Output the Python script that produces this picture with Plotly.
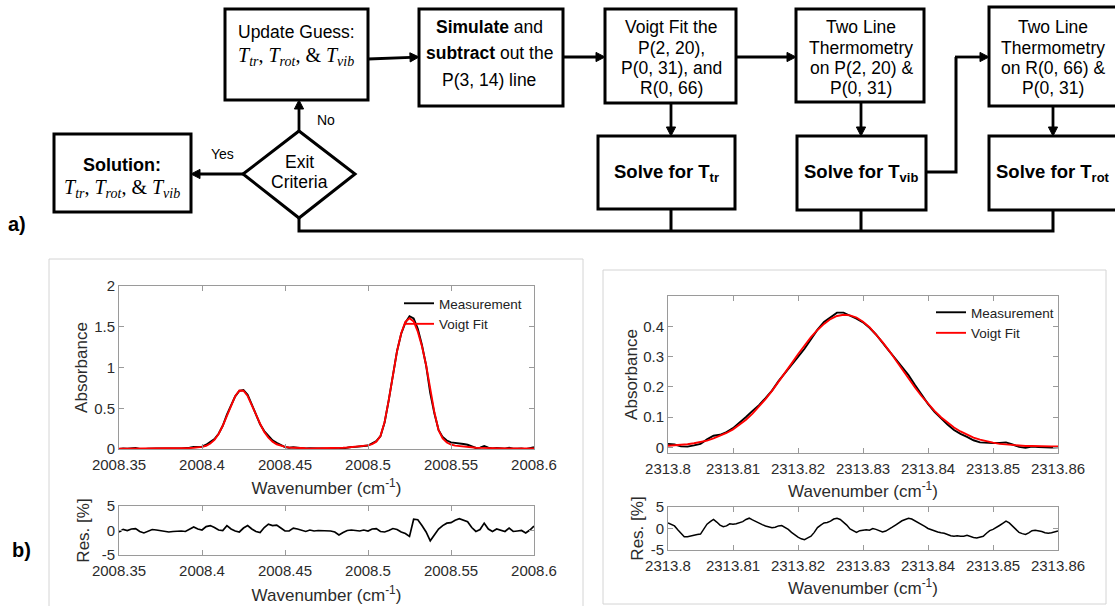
import math
import plotly.graph_objects as go

# ---------------- data (panel b) ----------------
# left: P(2,20) / P(0,31) region
wn_left = [
    2008.35, 2008.3525, 2008.355, 2008.3575, 2008.36, 2008.3625, 2008.365, 2008.3675, 2008.37, 2008.3725,
    2008.375, 2008.3775, 2008.38, 2008.3825, 2008.385, 2008.3875, 2008.39, 2008.3925, 2008.395, 2008.3975,
    2008.4, 2008.4025, 2008.405, 2008.4075, 2008.41, 2008.4125, 2008.415, 2008.4175, 2008.42, 2008.4225,
    2008.425, 2008.4275, 2008.43, 2008.4325, 2008.435, 2008.4375, 2008.44, 2008.4425, 2008.445, 2008.4475,
    2008.45, 2008.4525, 2008.455, 2008.4575, 2008.46, 2008.4625, 2008.465, 2008.4675, 2008.47, 2008.4725,
    2008.475, 2008.4775, 2008.48, 2008.4825, 2008.485, 2008.4875, 2008.49, 2008.4925, 2008.495, 2008.4975,
    2008.5, 2008.5025, 2008.505, 2008.5075, 2008.51, 2008.5125, 2008.515, 2008.5175, 2008.52, 2008.5225,
    2008.525, 2008.5275, 2008.53, 2008.5325, 2008.535, 2008.5375, 2008.54, 2008.5425, 2008.545, 2008.5475,
    2008.55, 2008.5525, 2008.555, 2008.5575, 2008.56, 2008.5625, 2008.565, 2008.5675, 2008.57, 2008.5725,
    2008.575, 2008.5775, 2008.58, 2008.5825, 2008.585, 2008.5875, 2008.59, 2008.5925, 2008.595, 2008.5975,
    2008.6,
]
abs_fit_left = [
    0.004, 0.004, 0.004, 0.005, 0.005, 0.005, 0.005, 0.005, 0.006, 0.006,
    0.006, 0.007, 0.007, 0.008, 0.009, 0.010, 0.011, 0.013, 0.015, 0.019,
    0.026, 0.040, 0.068, 0.112, 0.185, 0.285, 0.405, 0.535, 0.648, 0.718,
    0.715, 0.650, 0.545, 0.425, 0.310, 0.210, 0.140, 0.090, 0.058, 0.038,
    0.026, 0.018, 0.014, 0.011, 0.010, 0.009, 0.008, 0.008, 0.008, 0.008,
    0.009, 0.010, 0.011, 0.013, 0.015, 0.018, 0.022, 0.026, 0.030, 0.035,
    0.045, 0.060, 0.090, 0.160, 0.330, 0.600, 0.890, 1.200, 1.420, 1.560,
    1.604, 1.565, 1.440, 1.260, 1.030, 0.720, 0.450, 0.230, 0.130, 0.080,
    0.055, 0.042, 0.035, 0.028, 0.023, 0.019, 0.016, 0.014, 0.012, 0.011,
    0.010, 0.009, 0.009, 0.008, 0.008, 0.008, 0.007, 0.007, 0.007, 0.007,
    0.007,
]
abs_meas_left = [
    -0.001, 0.007, 0.004, 0.010, 0.012, 0.002, -0.003, 0.003, 0.009, 0.008,
    0.006, 0.004, 0.002, 0.005, 0.007, 0.008, 0.008, 0.016, 0.026, 0.024,
    0.028, 0.053, 0.084, 0.122, 0.187, 0.285, 0.421, 0.540, 0.646, 0.713,
    0.723, 0.666, 0.550, 0.422, 0.303, 0.220, 0.161, 0.106, 0.076, 0.046,
    0.024, 0.016, 0.022, 0.016, 0.010, 0.006, 0.010, 0.006, 0.008, 0.008,
    0.007, 0.008, 0.006, -0.002, 0.008, 0.018, 0.024, 0.026, 0.028, 0.037,
    0.043, 0.065, 0.097, 0.157, 0.325, 0.600, 0.897, 1.203, 1.415, 1.550,
    1.630, 1.602, 1.476, 1.276, 1.025, 0.686, 0.435, 0.235, 0.146, 0.104,
    0.081, 0.076, 0.074, 0.062, 0.052, 0.029, 0.013, 0.017, 0.036, 0.016,
    0.007, 0.014, 0.009, 0.005, 0.016, 0.005, 0.005, 0.007, -0.001, 0.009,
    0.022,
]
res_left = [
    -0.3, 0.2, 0.0, 0.3, 0.4, -0.2, -0.5, -0.1, 0.2, 0.1,
    0.0, -0.2, -0.3, -0.2, -0.1, -0.1, -0.2, 0.2, 0.7, 0.3,
    0.1, 0.8, 1.0, 0.6, 0.1, 0.0, 1.0, 0.3, -0.1, -0.3,
    0.5, 1.0, 0.3, -0.2, -0.4, 0.6, 1.3, 1.0, 1.1, 0.5,
    -0.1, -0.1, 0.5, 0.3, 0.0, -0.2, 0.1, -0.1, 0.0, 0.0,
    -0.1, -0.1, -0.3, -0.9, -0.4, 0.0, 0.1, 0.0, -0.1, 0.1,
    -0.1, 0.3, 0.4, -0.2, -0.3, 0.0, 0.4, 0.2, -0.3, -0.6,
    -1.2, 2.3, 2.2, 1.0, -0.3, -2.1, -0.9, 0.3, 1.0, 1.5,
    1.6, 2.1, 2.4, 2.1, 1.8, 0.6, -0.2, 0.2, 1.5, 0.3,
    -0.2, 0.3, 0.0, -0.2, 0.5, -0.2, -0.1, 0.0, -0.5, 0.1,
    0.9,
]

# right: R(0,66) region
wn_right = [
    2313.800, 2313.801, 2313.802, 2313.803, 2313.804, 2313.805, 2313.806, 2313.807, 2313.808, 2313.809,
    2313.810, 2313.811, 2313.812, 2313.813, 2313.814, 2313.815, 2313.816, 2313.817, 2313.818, 2313.819,
    2313.820, 2313.821, 2313.822, 2313.823, 2313.824, 2313.825, 2313.826, 2313.827, 2313.828, 2313.829,
    2313.830, 2313.831, 2313.832, 2313.833, 2313.834, 2313.835, 2313.836, 2313.837, 2313.838, 2313.839,
    2313.840, 2313.841, 2313.842, 2313.843, 2313.844, 2313.845, 2313.846, 2313.847, 2313.848, 2313.849,
    2313.850, 2313.851, 2313.852, 2313.853, 2313.854, 2313.855, 2313.856, 2313.857, 2313.858, 2313.859,
    2313.860,
]
abs_fit_right = [
    0.006, 0.007, 0.009, 0.011, 0.014, 0.018, 0.023, 0.030, 0.038, 0.048,
    0.060, 0.075, 0.092, 0.112, 0.135, 0.160, 0.187, 0.216, 0.246, 0.277,
    0.308, 0.337, 0.364, 0.388, 0.408, 0.424, 0.434, 0.438, 0.436, 0.429,
    0.415, 0.397, 0.374, 0.348, 0.320, 0.289, 0.258, 0.228, 0.198, 0.170,
    0.144, 0.121, 0.100, 0.082, 0.066, 0.053, 0.042, 0.033, 0.026, 0.020,
    0.016, 0.012, 0.010, 0.008, 0.006, 0.005, 0.005, 0.004, 0.004, 0.004,
    0.004,
]
abs_meas_right = [
    0.012, 0.010, 0.004, 0.003, 0.007, 0.012, 0.027, 0.039, 0.042, 0.051,
    0.064, 0.081, 0.101, 0.121, 0.140, 0.163, 0.188, 0.219, 0.247, 0.273,
    0.299, 0.326, 0.356, 0.389, 0.414, 0.431, 0.445, 0.445, 0.436, 0.425,
    0.413, 0.395, 0.373, 0.344, 0.319, 0.293, 0.266, 0.239, 0.206, 0.174,
    0.144, 0.118, 0.096, 0.076, 0.058, 0.045, 0.035, 0.024, 0.017, 0.015,
    0.015, 0.015, 0.017, 0.010, 0.002, -0.001, 0.003, 0.002, 0.000, 0.000,
    0.001,
]
wn_right_res = [
    2313.8000, 2313.8005, 2313.8010, 2313.8015, 2313.8020, 2313.8025, 2313.8030, 2313.8035, 2313.8040, 2313.8045,
    2313.8050, 2313.8055, 2313.8060, 2313.8065, 2313.8070, 2313.8075, 2313.8080, 2313.8085, 2313.8090, 2313.8095,
    2313.8100, 2313.8105, 2313.8110, 2313.8115, 2313.8120, 2313.8125, 2313.8130, 2313.8135, 2313.8140, 2313.8145,
    2313.8150, 2313.8155, 2313.8160, 2313.8165, 2313.8170, 2313.8175, 2313.8180, 2313.8185, 2313.8190, 2313.8195,
    2313.8200, 2313.8205, 2313.8210, 2313.8215, 2313.8220, 2313.8225, 2313.8230, 2313.8235, 2313.8240, 2313.8245,
    2313.8250, 2313.8255, 2313.8260, 2313.8265, 2313.8270, 2313.8275, 2313.8280, 2313.8285, 2313.8290, 2313.8295,
    2313.8300, 2313.8305, 2313.8310, 2313.8315, 2313.8320, 2313.8325, 2313.8330, 2313.8335, 2313.8340, 2313.8345,
    2313.8350, 2313.8355, 2313.8360, 2313.8365, 2313.8370, 2313.8375, 2313.8380, 2313.8385, 2313.8390, 2313.8395,
    2313.8400, 2313.8405, 2313.8410, 2313.8415, 2313.8420, 2313.8425, 2313.8430, 2313.8435, 2313.8440, 2313.8445,
    2313.8450, 2313.8455, 2313.8460, 2313.8465, 2313.8470, 2313.8475, 2313.8480, 2313.8485, 2313.8490, 2313.8495,
    2313.8500, 2313.8505, 2313.8510, 2313.8515, 2313.8520, 2313.8525, 2313.8530, 2313.8535, 2313.8540, 2313.8545,
    2313.8550, 2313.8555, 2313.8560, 2313.8565, 2313.8570, 2313.8575, 2313.8580, 2313.8585, 2313.8590, 2313.8595,
    2313.8600,
]
res_right = [
    1.3, 1.0, 0.6, -0.3, -1.2, -1.9, -1.9, -1.7, -1.6, -1.4,
    -1.3, -0.2, 1.0, 1.6, 2.1, 1.5, 0.8, 0.4, 0.6, 1.1,
    1.0, 1.1, 1.3, 1.6, 2.1, 2.4, 2.0, 1.6, 1.2, 0.9,
    0.6, 0.4, 0.2, 0.3, 0.6, 0.7, 0.3, -0.2, -0.9, -1.5,
    -2.0, -2.4, -2.6, -2.2, -1.8, -0.9, 0.2, 0.8, 1.3, 1.4,
    1.7, 2.2, 2.4, 2.1, 1.5, 0.8, -0.1, -0.6, -0.9, -0.5,
    -0.4, -0.3, -0.4, 0.0, -0.2, -0.5, -0.8, -0.6, -0.2, 0.3,
    0.8, 1.4, 1.8, 2.1, 2.4, 2.2, 1.8, 1.3, 1.0, 0.5,
    0.0, -0.3, -0.6, -0.8, -1.0, -1.1, -1.4, -1.7, -1.8, -1.7,
    -1.8, -1.8, -1.6, -1.9, -2.1, -2.2, -2.0, -1.8, -1.1, -0.5,
    -0.2, 0.2, 0.7, 1.2, 1.7, 1.3, 0.5, -0.3, -0.9, -1.2,
    -1.4, -1.0, -0.5, -0.4, -0.5, -0.7, -1.0, -1.1, -1.0, -0.8,
    -0.6,
]

xticks_left = [2008.35, 2008.4, 2008.45, 2008.5, 2008.55, 2008.6]
xticklabels_left = ["2008.35", "2008.4", "2008.45", "2008.5", "2008.55", "2008.6"]
xticks_right = [2313.80, 2313.81, 2313.82, 2313.83, 2313.84, 2313.85, 2313.86]
xticklabels_right = ["2313.8", "2313.81", "2313.82", "2313.83", "2313.84", "2313.85", "2313.86"]
yticks_left = [0, 0.5, 1, 1.5, 2]
yticklabels_left = ["0", "0.5", "1", "1.5", "2"]
yticks_right = [0, 0.1, 0.2, 0.3, 0.4]
yticklabels_right = ["0", "0.1", "0.2", "0.3", "0.4"]
res_ticks = [-5, 0, 5]
res_ticklabels = ["-5", "0", "5"]

# ---------------- layout helpers ----------------
W, H = 1115, 606
SANS = "Liberation Sans, Arial, sans-serif"
SERIF = "Liberation Serif, Times New Roman, serif"


def fx(p):
    return p / W


def fy(p):
    return 1 - p / H


fig = go.Figure()

# ---------------- traces ----------------
fig.add_trace(go.Scatter(x=wn_left, y=abs_meas_left, mode="lines", name="Measurement",
                         line=dict(color="#000000", width=1.9), xaxis="x", yaxis="y", legend="legend"))
fig.add_trace(go.Scatter(x=wn_left, y=abs_fit_left, mode="lines", name="Voigt Fit",
                         line=dict(color="#ff0000", width=1.9), xaxis="x", yaxis="y", legend="legend"))
fig.add_trace(go.Scatter(x=wn_left, y=res_left, mode="lines", showlegend=False,
                         line=dict(color="#000000", width=1.7), xaxis="x2", yaxis="y2"))
fig.add_trace(go.Scatter(x=wn_right, y=abs_meas_right, mode="lines", name="Measurement",
                         line=dict(color="#000000", width=1.9), xaxis="x3", yaxis="y3", legend="legend2"))
fig.add_trace(go.Scatter(x=wn_right, y=abs_fit_right, mode="lines", name="Voigt Fit",
                         line=dict(color="#ff0000", width=1.9), xaxis="x3", yaxis="y3", legend="legend2"))
fig.add_trace(go.Scatter(x=wn_right_res, y=res_right, mode="lines", showlegend=False,
                         line=dict(color="#000000", width=1.5), xaxis="x4", yaxis="y4"))

axis_common = dict(
    showline=True, linecolor="#9a9a9a", linewidth=1, mirror="ticks",
    ticks="inside", ticklen=5, tickwidth=1, tickcolor="#9a9a9a",
    showgrid=False, zeroline=False, automargin=False,
    tickfont=dict(family=SANS, size=15, color="#2b2b2b"),
)
title_font = dict(family=SANS, size=17, color="#2b2b2b")
wn_title = "Wavenumber (cm<sup>-1</sup>)"

fig.update_layout(
    xaxis=dict(axis_common, domain=[fx(119), fx(534)], range=[2008.35, 2008.6], anchor="y",
               tickvals=xticks_left, ticktext=xticklabels_left, ticklabelstandoff=2,
               title=dict(text=wn_title, font=title_font, standoff=10)),
    yaxis=dict(axis_common, domain=[fy(449), fy(286)], range=[0, 2], anchor="x",
               tickvals=yticks_left, ticktext=yticklabels_left,
               title=dict(text="Absorbance", font=title_font, standoff=2)),
    xaxis2=dict(axis_common, domain=[fx(119), fx(534)], range=[2008.35, 2008.6], anchor="y2",
                tickvals=xticks_left, ticktext=xticklabels_left, ticklabelstandoff=2,
                title=dict(text=wn_title, font=title_font, standoff=11)),
    yaxis2=dict(axis_common, domain=[fy(555), fy(506)], range=[-5, 5], anchor="x2",
                tickvals=res_ticks, ticktext=res_ticklabels,
                title=dict(text="Res. [%]", font=title_font, standoff=7)),
    xaxis3=dict(axis_common, domain=[fx(668), fx(1058)], range=[2313.8, 2313.86], anchor="y3",
                tickvals=xticks_right, ticktext=xticklabels_right, ticklabelstandoff=2,
                title=dict(text=wn_title, font=title_font, standoff=9)),
    yaxis3=dict(axis_common, domain=[fy(453), fy(296)], range=[-0.018, 0.5], anchor="x3",
                tickvals=yticks_right, ticktext=yticklabels_right,
                title=dict(text="Absorbance", font=title_font, standoff=1)),
    xaxis4=dict(axis_common, domain=[fx(668), fx(1058)], range=[2313.8, 2313.86], anchor="y4",
                tickvals=xticks_right, ticktext=xticklabels_right, ticklabelstandoff=2,
                title=dict(text=wn_title, font=title_font, standoff=9)),
    yaxis4=dict(axis_common, domain=[fy(550), fy(507)], range=[-5, 5], anchor="x4",
                tickvals=res_ticks, ticktext=res_ticklabels,
                title=dict(text="Res. [%]", font=title_font, standoff=2)),
    legend=dict(x=fx(399), y=fy(288), xanchor="left", yanchor="top", bgcolor="rgba(0,0,0,0)",
                borderwidth=0, itemwidth=30, font=dict(family=SANS, size=13.5, color="#222222")),
    legend2=dict(x=fx(931), y=fy(297), xanchor="left", yanchor="top", bgcolor="rgba(0,0,0,0)",
                 borderwidth=0, itemwidth=30, font=dict(family=SANS, size=13.5, color="#222222")),
    width=W, height=H, margin=dict(l=0, r=0, t=0, b=0),
    paper_bgcolor="white", plot_bgcolor="white",
    font=dict(family=SANS, color="#000000"),
)

shapes = []


def rect(x0, y0, x1, y1, color="#000000", width=3):
    shapes.append(dict(type="rect", xref="paper", yref="paper", x0=fx(x0), x1=fx(x1), y0=fy(y1), y1=fy(y0),
                       line=dict(color=color, width=width), fillcolor="rgba(0,0,0,0)", layer="above"))


def path(points, close=False, width=3, fill=None):
    d = "M " + " L ".join(f"{fx(x):.5f},{fy(y):.5f}" for x, y in points)
    if close:
        d += " Z"
    shapes.append(dict(type="path", xref="paper", yref="paper", path=d,
                       line=dict(color="#000000", width=width),
                       fillcolor=fill if fill else "rgba(0,0,0,0)", layer="above"))


def arrow(x0, y0, x1, y1, head_len=9.0, head_half=4.6):
    dx, dy = x1 - x0, y1 - y0
    n = math.hypot(dx, dy)
    ux, uy = dx / n, dy / n
    bx, by = x1 - ux * head_len, y1 - uy * head_len
    path([(x0, y0), (bx + ux, by + uy)], width=2.8)
    path([(x1, y1), (bx - uy * head_half, by + ux * head_half), (bx + uy * head_half, by - ux * head_half)],
         close=True, width=1, fill="#000000")


def label(x, y, text, size=17.5, family=SANS, color="#000000", xanchor="center"):
    fig.add_annotation(x=fx(x), y=fy(y), xref="paper", yref="paper", text=text, showarrow=False,
                       xanchor=xanchor, yanchor="middle", font=dict(family=family, size=size, color=color))


# panel b frames
rect(49, 259, 583, 612, color="#d4d4d4", width=1)
rect(603, 270, 1106, 604, color="#d4d4d4", width=1)

# ---------------- panel a: flowchart ----------------
TEMPS = ("<i>T<sub>tr</sub></i>, <i>T<sub>rot</sub></i>, &amp; <i>T<sub>vib</sub></i>")

rect(225, 9, 368, 100)                 # Update guess
rect(419, 9, 563, 106)                 # Simulate
rect(605, 9, 736, 103)                 # Voigt fit
rect(598, 136, 735, 209)               # Solve Ttr
rect(796, 9, 924, 102)                 # Two line 1
rect(797, 136, 926, 210)               # Solve Tvib
rect(989, 7, 1125, 106)                # Two line 2
rect(989, 136, 1125, 210)              # Solve Trot
rect(54, 134, 191, 212)                # Solution
path([(299, 131), (355, 174), (299, 218), (243, 174)], close=True)   # decision diamond

# connectors
path([(926, 172), (956, 172), (956, 57)])
path([(299, 218), (299, 231), (1053, 231), (1053, 210)])
path([(671, 209), (671, 231)])
path([(861, 210), (861, 231)])

arrow(368, 59, 419, 57)
arrow(563, 57, 605, 57)
arrow(671, 103, 671, 136)
arrow(736, 57, 796, 57)
arrow(861, 102, 861, 136)
arrow(955, 57, 989, 57)
arrow(1053, 106, 1053, 136)
arrow(299, 131, 299, 100)
arrow(243, 174, 191, 174)

label(296, 32, "Update Guess:")
label(296, 56, TEMPS, size=20, family=SERIF)
label(489, 27, "<b>Simulate</b> and")
label(489, 53, "<b>subtract</b> out the")
label(489, 80, "P(3, 14) line")
for yy, t in zip([27, 48, 68, 88], ["Voigt Fit the", "P(2, 20),", "P(0, 31), and", "R(0, 66)"]):
    label(671, yy, t)
for yy, t in zip([27, 48, 68, 88], ["Two Line", "Thermometry", "on P(2, 20) &amp;", "P(0, 31)"]):
    label(861, yy, t)
for yy, t in zip([27, 48, 68, 88], ["Two Line", "Thermometry", "on R(0, 66) &amp;", "P(0, 31)"]):
    label(1053, yy, t)
label(666, 173, "<b>Solve for T<sub>tr</sub></b>", size=18.5)
label(861, 173, "<b>Solve for T<sub>vib</sub></b>", size=18.5)
label(1053, 173, "<b>Solve for T<sub>rot</sub></b>", size=18.5)
label(122, 165, "<b>Solution:</b>", size=18)
label(122, 188, TEMPS, size=20, family=SERIF)
label(299, 162, "Exit")
label(299, 182, "Criteria")
label(326, 120, "No", size=14)
label(222, 154, "Yes", size=14)
label(17, 224, "<b>a)</b>", size=20)
label(21, 550, "<b>b)</b>", size=20)

fig.update_layout(shapes=shapes)
fig.write_html("out.html")
